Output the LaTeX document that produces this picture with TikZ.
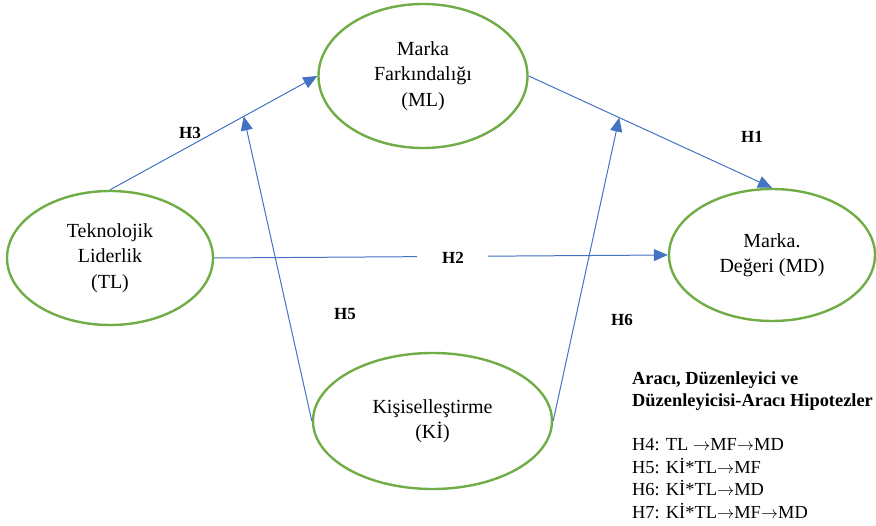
\documentclass[tikz,border=0pt]{standalone}
\usepackage{fontspec}
\setmainfont{Liberation Serif}
\usetikzlibrary{shapes.geometric,arrows.meta}
\definecolor{egreen}{HTML}{70AD47}
\definecolor{ablue}{HTML}{4472C4}
\begin{document}
\begin{tikzpicture}[x=1pt,y=-1pt,
  ell/.style={draw=egreen, line width=2.4pt, ellipse, inner sep=0pt, align=center,
    font=\fontsize{20}{25.5}\selectfont},
  conn/.style={draw=ablue, line width=1pt, -{Triangle[length=14pt,width=12pt]}},
  hlab/.style={font=\fontsize{17}{20}\bfseries\selectfont, inner sep=0pt},
  legtxt/.style={anchor=base west, inner sep=0pt, font=\fontsize{18.4}{22}\selectfont}]
\useasboundingbox (0,0) rectangle (876,526);
\node[ell, minimum width=209pt, minimum height=144pt] (ML) at (423,76) {Marka\\Farkındalığı\\(ML)};
\node[ell, minimum width=206pt, minimum height=134pt] (TL) at (110,258) {\raisebox{-4pt}{\parbox{100pt}{\centering Teknolojik\\Liderlik\\(TL)}}};
\node[ell, minimum width=239pt, minimum height=136pt] (KI) at (432.5,421) {Kişiselleştirme\\(Kİ)};
\node[ell, minimum width=206pt, minimum height=132pt] (MD) at (772,255) {Marka.\\Değeri (MD)};
% main paths
\draw[conn] (TL.north) -- (ML.west) coordinate[pos=0.645] (h5end);
\draw[conn] (ML.east) -- (MD.north) coordinate[pos=0.372] (h6end);
\draw[conn] (TL.east) -- (MD.west) node[pos=0.525, fill=white, minimum width=71pt, minimum height=12pt, inner sep=0pt] (h2gap) {};
\draw[conn] (KI.west) -- (h5end);
\draw[conn] (KI.east) -- (h6end);
% labels
\node[hlab] (H3) at (190,133) {H3};
\node[hlab] (H1) at (752,137) {H1};
\node[hlab] (H2) at (453,258) {H2};
\node[hlab] (H5) at (345,314) {H5};
\node[hlab] (H6) at (622,320) {H6};
% legend
\node[legtxt, font=\fontsize{18.4}{22}\bfseries\selectfont] (leg1) at (632,385) {Aracı, Düzenleyici ve};
\node[legtxt, font=\fontsize{18.4}{22}\bfseries\selectfont] (leg2) at (632,407) {Düzenleyicisi-Aracı Hipotezler};
\node[legtxt] (leg3) at (632,451) {H4: TL $\rightarrow$MF$\rightarrow$MD};
\node[legtxt] (leg4) at (632,473.5) {H5: Kİ*TL$\rightarrow$MF};
\node[legtxt] (leg5) at (632,496) {H6: Kİ*TL$\rightarrow$MD};
\node[legtxt] (leg6) at (632,518.5) {H7: Kİ*TL$\rightarrow$MF$\rightarrow$MD};
\end{tikzpicture}
\end{document}
